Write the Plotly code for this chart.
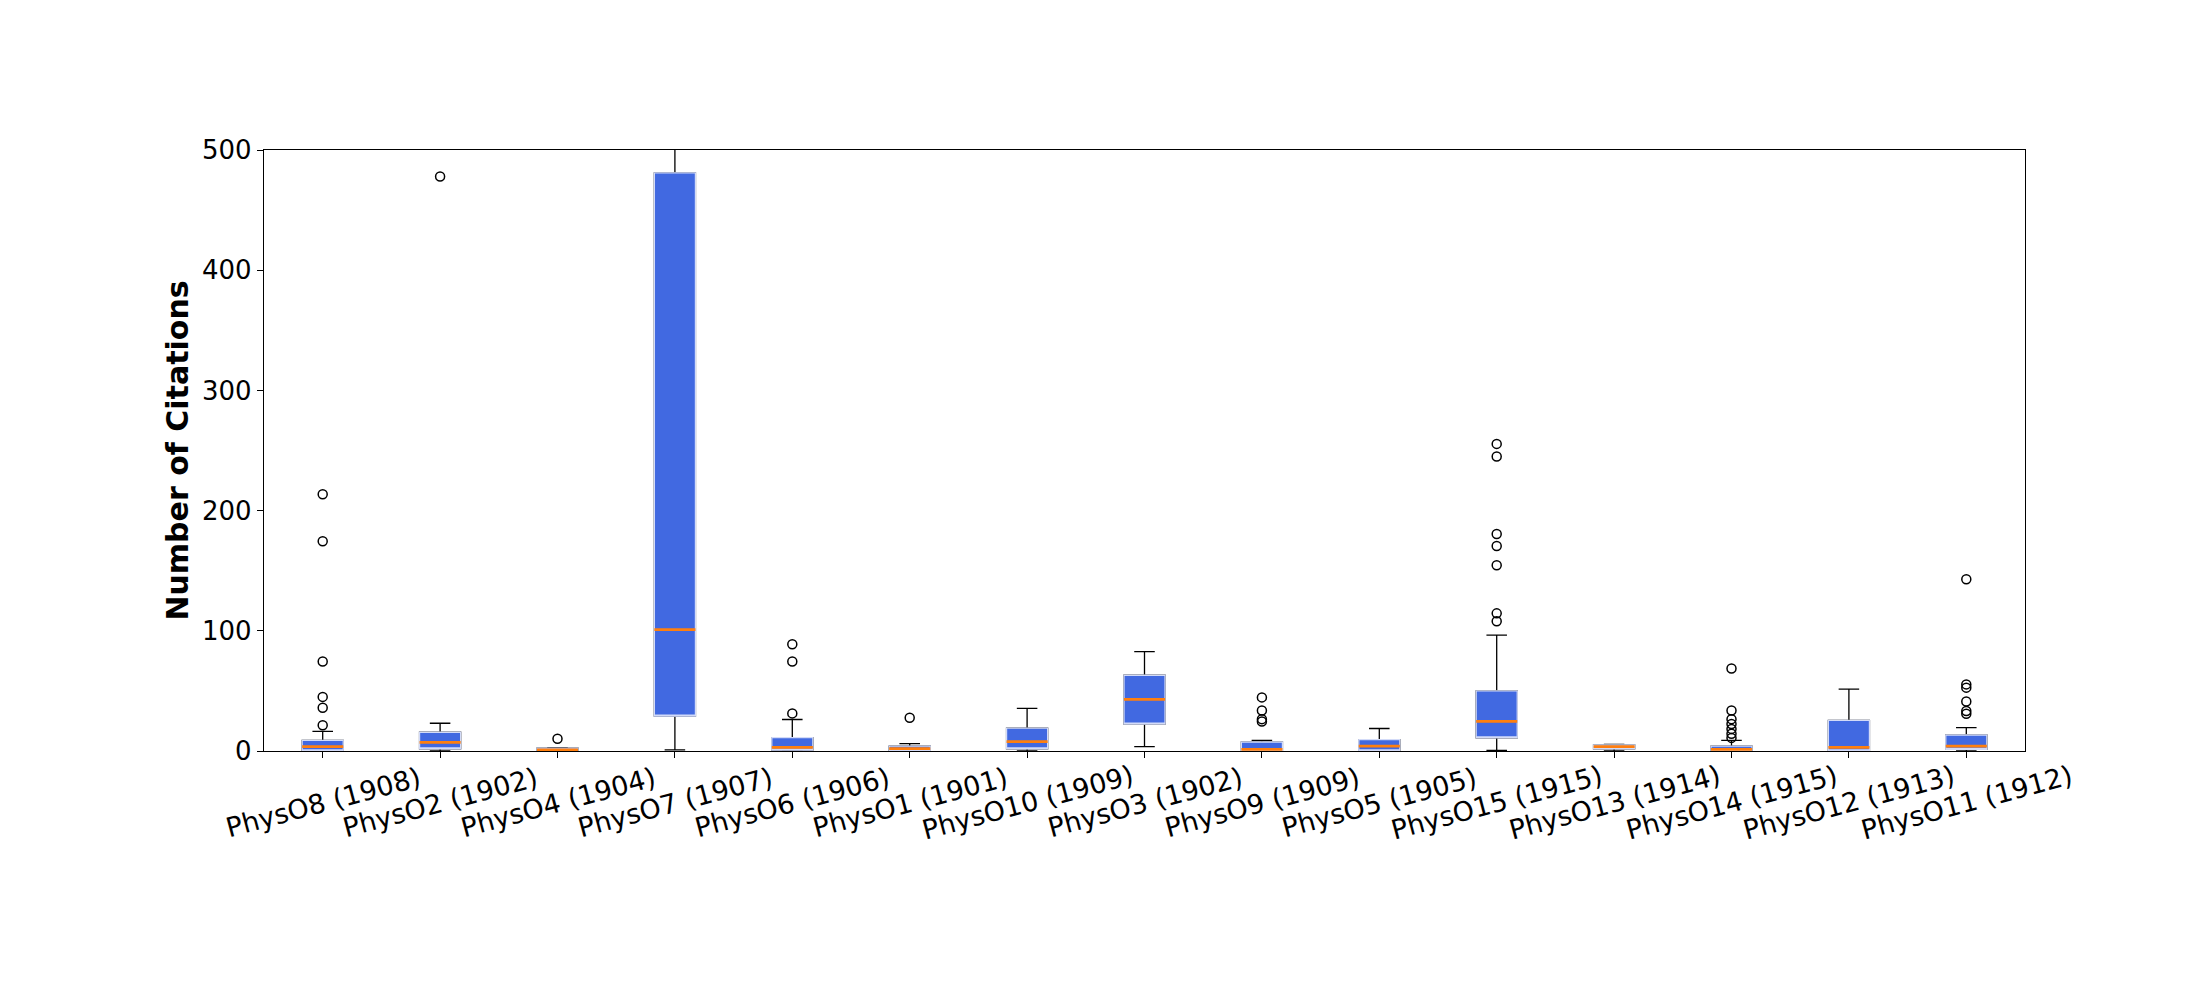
import plotly.graph_objects as go

categories = ["PhysO8 (1908)", "PhysO2 (1902)", "PhysO4 (1904)", "PhysO7 (1907)",
              "PhysO6 (1906)", "PhysO1 (1901)", "PhysO10 (1909)", "PhysO3 (1902)",
              "PhysO9 (1909)", "PhysO5 (1905)", "PhysO15 (1915)", "PhysO13 (1914)",
              "PhysO14 (1915)", "PhysO12 (1913)", "PhysO11 (1912)"]

q1 = [0, 1.7, 0, 29, 0.7, 0, 1.7, 22.4, 0, 0, 11, 1.7, 0, 0, 1.4]
median = [3.7, 7.1, 1, 101, 3, 2, 7.8, 43, 1.4, 4.1, 24.7, 3.7, 1.4, 3, 4.1]
q3 = [8.8, 15.6, 2.4, 481, 11.2, 4, 19, 63, 7.5, 9.5, 50, 5, 4.1, 25.5, 13.3]
lower_whisker = [0, 0, 0, 1, 0, 0, 0, 3.7, 0, 0, 0.5, 0, 0, 0, 0]
upper_whisker = [16.3, 23.1, 2.7, 1000, 26.2, 6.1, 35.4, 82.7, 8.8, 18.7, 96.4, 5.4, 8.8, 51.4, 19.4]

outliers = {
    "PhysO8 (1908)": [21.4, 36, 45, 74.5, 174.5, 213.6],
    "PhysO2 (1902)": [478],
    "PhysO4 (1904)": [10.2],
    "PhysO6 (1906)": [31.3, 74.5, 88.8],
    "PhysO1 (1901)": [27.6],
    "PhysO9 (1909)": [24.5, 26.5, 33.7, 44.6],
    "PhysO15 (1915)": [108, 114.5, 154.5, 170.5, 180.5, 245, 255.5],
    "PhysO14 (1915)": [10.9, 14.3, 18.4, 22.4, 26.5, 33.7, 68.7],
    "PhysO11 (1912)": [31, 33.3, 41.2, 52.7, 55.4, 142.9],
}

y_ticks = [0, 100, 200, 300, 400, 500]

FONT = "DejaVu Sans"
BLUE = "#4169E1"

fig = go.Figure()

# whiskers + caps (black)
fig.add_trace(go.Box(
    x=categories, q1=q1, median=median, q3=q3,
    lowerfence=lower_whisker, upperfence=upper_whisker,
    fillcolor=BLUE, line=dict(color="black", width=1.3),
    whiskerwidth=0.5, boxpoints=False, showlegend=False, hoverinfo="skip",
))
# box body with light edge
fig.add_trace(go.Box(
    x=categories, q1=q1, median=q1, q3=q3,
    lowerfence=q1, upperfence=q3,
    fillcolor=BLUE, line=dict(color="#d3dbf8", width=1.3),
    whiskerwidth=0, boxpoints=False, showlegend=False, hoverinfo="skip",
))
# median lines (orange)
fig.add_trace(go.Box(
    x=categories, q1=median, median=median, q3=median,
    lowerfence=median, upperfence=median,
    fillcolor="rgba(0,0,0,0)", line=dict(color="#ff7f0e", width=2.8),
    whiskerwidth=0, boxpoints=False, showlegend=False, hoverinfo="skip",
))

ox, oy = [], []
for c, vals in outliers.items():
    for v in vals:
        ox.append(c)
        oy.append(v)
fig.add_trace(go.Scatter(
    x=ox, y=oy, mode="markers",
    marker=dict(symbol="circle-open", size=9, color="black", line=dict(width=1.5)),
    showlegend=False, hoverinfo="skip",
))

for c in categories:
    fig.add_annotation(
        x=c, y=0, xref="x", yref="paper", text=c, showarrow=False,
        textangle=-15, xanchor="center", yanchor="middle", yshift=-51,
        font=dict(family=FONT, size=27, color="black"),
    )

fig.update_layout(
    width=2200, height=1000,
    margin=dict(l=264, r=175, t=150, b=249),
    paper_bgcolor="white", plot_bgcolor="white",
    boxgap=0.5, boxmode="overlay",
    font=dict(family=FONT, color="black"),
)
fig.update_xaxes(
    type="category", categoryorder="array", categoryarray=categories,
    range=[-0.5, len(categories) - 0.5],
    showticklabels=False, ticks="outside", ticklen=6, tickcolor="black",
    showline=True, linecolor="black", linewidth=1.3, mirror=True,
    showgrid=False, zeroline=False,
)
fig.update_yaxes(
    range=[0, 500], tickvals=y_ticks,
    ticks="outside", ticklen=6, tickcolor="black",
    tickfont=dict(family=FONT, size=26, color="black"),
    showline=True, linecolor="black", linewidth=1.3, mirror=True,
    showgrid=False, zeroline=False,
    title=dict(text="<b>Number of Citations</b>", standoff=4,
               font=dict(family=FONT, size=30, color="black")),
)

fig.write_html("out.html", config={"displayModeBar": False},
               post_script="document.body.style.margin='0';")
